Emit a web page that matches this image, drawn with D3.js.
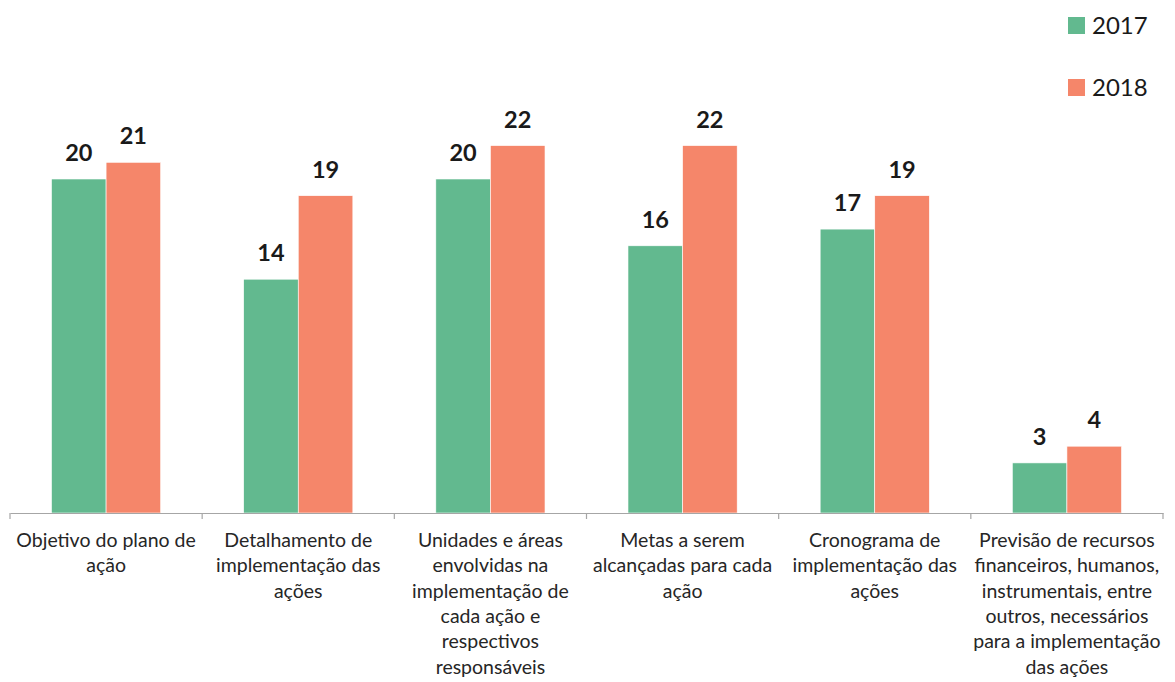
<!DOCTYPE html>
<html>
<head>
<meta charset="utf-8">
<script src="https://cdn.jsdelivr.net/npm/d3@7"></script>
<style>
  body { margin: 0; background: #fff; }
  svg { display: block; font-family: Lato, "Open Sans", sans-serif; }
</style>
</head>
<body>
<svg id="chart" width="1175" height="682"></svg>
<script>
// Data
const categories = [
  ["Objetivo do plano de", "ação"],
  ["Detalhamento de", "implementação das", "ações"],
  ["Unidades e áreas", "envolvidas na", "implementação de", "cada ação e", "respectivos", "responsáveis"],
  ["Metas a serem", "alcançadas para cada", "ação"],
  ["Cronograma de", "implementação das", "ações"],
  ["Previsão de recursos", "financeiros, humanos,", "instrumentais, entre", "outros, necessários", "para a implementação", "das ações"]
];
const years = ["2017", "2018"];
const values2017 = [20, 14, 20, 16, 17, 3];
const values2018 = [21, 19, 22, 22, 19, 4];
const colors = ["#62b98f", "#f5866a"];

const svg = d3.select("#chart");
const margin = { top: 20, left: 10, right: 12, baseline: 513 };
const width = 1175;

const keys = categories.map((d, i) => i);
const data = keys.map((i) => ({ i, vals: [values2017[i], values2018[i]] }));

const x = d3.scaleBand()
  .domain(keys)
  .range([margin.left, width - margin.right])
  .paddingInner(0)
  .paddingOuter(0);

const xInner = d3.scaleBand()
  .domain([0, 1])
  .range([0, x.bandwidth()])
  .paddingInner(0)
  .paddingOuter(0.76);

const y = d3.scaleLinear()
  .domain([0, 22])
  .range([margin.baseline, margin.baseline - 22 * 16.7]);

// Bars
const groups = svg.append("g")
  .selectAll("g")
  .data(data)
  .join("g")
  .attr("transform", (d) => `translate(${x(d.i)},0)`);

groups.selectAll("rect")
  .data((d) => d.vals.map((v, s) => ({ v, s })))
  .join("rect")
  .attr("x", (d) => xInner(d.s))
  .attr("y", (d) => y(d.v))
  .attr("width", xInner.bandwidth())
  .attr("height", (d) => y(0) - y(d.v))
  .attr("fill", (d) => colors[d.s])
  .attr("stroke", "#fff")
  .attr("stroke-width", 0.6);

// Value labels
groups.selectAll("text")
  .data((d) => d.vals.map((v, s) => ({ v, s })))
  .join("text")
  .attr("x", (d) => xInner(d.s) + xInner.bandwidth() / 2)
  .attr("y", (d) => y(d.v) - 18)
  .attr("text-anchor", "middle")
  .style("font-size", "23.5px")
  .style("font-weight", "bold")
  .style("fill", "#1a1a1a")
  .text((d) => d.v);

// X axis
const axis = d3.axisBottom(x).tickSize(0).tickFormat("");
const gx = svg.append("g")
  .attr("transform", `translate(0,${margin.baseline})`)
  .call(axis);
gx.select(".domain").attr("stroke", "#a6a6a6").attr("stroke-width", 1.2);

// tick marks at category boundaries
const bounds = keys.map((i) => x(i)).concat([width - margin.right]);
gx.selectAll(".bound")
  .data(bounds)
  .join("line")
  .attr("class", "bound")
  .attr("x1", (d) => d).attr("x2", (d) => d)
  .attr("y1", 0).attr("y2", 6)
  .attr("stroke", "#a6a6a6")
  .attr("stroke-width", 1.2);

// Category labels
const lab = svg.append("g")
  .selectAll("text")
  .data(data)
  .join("text")
  .attr("x", (d) => x(d.i) + x.bandwidth() / 2)
  .attr("y", 547)
  .attr("text-anchor", "middle")
  .style("font-size", "19.5px")
  .style("fill", "#262626");

lab.selectAll("tspan")
  .data((d) => categories[d.i])
  .join("tspan")
  .attr("x", function () { return d3.select(this.parentNode).attr("x"); })
  .attr("dy", (d, j) => (j === 0 ? 0 : 25.3))
  .text((d) => d);

// Legend
const legend = svg.append("g")
  .selectAll("g")
  .data(years)
  .join("g")
  .attr("transform", (d, i) => `translate(1068,${17 + i * 62})`);

legend.append("rect")
  .attr("width", 17)
  .attr("height", 17)
  .attr("fill", (d, i) => colors[i]);

legend.append("text")
  .attr("x", 24)
  .attr("y", 16.5)
  .style("font-size", "24px")
  .style("fill", "#1a1a1a")
  .text((d) => d);
</script>
</body>
</html>
